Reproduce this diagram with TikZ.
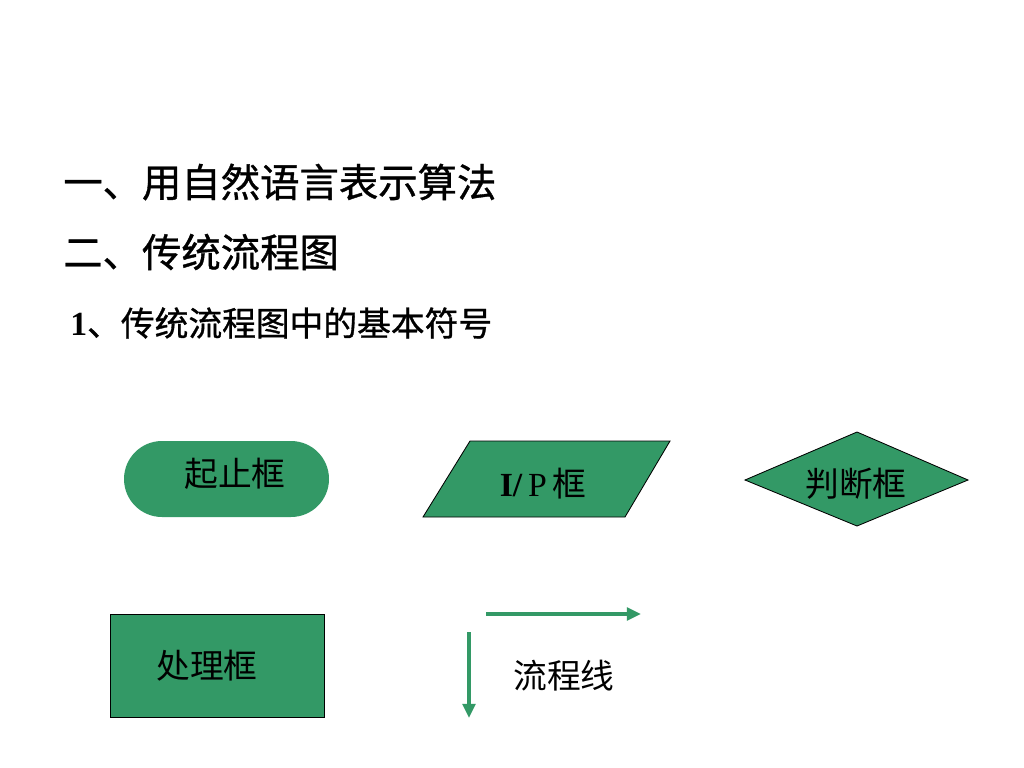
\documentclass[tikz,border=0pt]{standalone}
\usepackage{fontspec}
\setmainfont{Liberation Serif}
\newfontfamily\cjk{Noto Sans CJK SC}
\newfontfamily\cjkhead{Noto Sans CJK SC}[FakeBold=0.9]
\usetikzlibrary{arrows.meta}
\definecolor{symgreen}{RGB}{51,153,102}
\tikzset{
  symbox/.style={fill=symgreen,draw=black,line width=.6pt},
  symtext/.style={inner sep=0pt,font=\fontsize{24}{28}\selectfont\cjk},
  headtext/.style={anchor=west,inner sep=0pt,font=\fontsize{28}{32}\selectfont\cjkhead},
  flowline/.style={draw=symgreen,line width=2.2pt,-{Triangle[length=10pt,width=9pt]}}
}
\begin{document}
\begin{tikzpicture}[x=0.025cm,y=-0.025cm]
\useasboundingbox (0,0) rectangle (1024,768);

% headings
\node[headtext] (alg) at (63,182) {一、用自然语言表示算法};
\node[headtext] (trad) at (63,252) {二、传统流程图};
\node[headtext,font=\fontsize{24}{28}\selectfont] (sym) at (70,323) {\textbf{1}{\cjkhead 、传统流程图中的基本符号}};

% symbols
\fill[symgreen,rounded corners=0.95cm] (124,441) rectangle (329,517);
\node[symtext] (start) at (235,474) {起止框};

\draw[symbox] (423,517) -- (470,441) -- (670,441) -- (625,517) -- cycle;
\node[symtext] (io) at (543,484) {{\rmfamily\bfseries I/}\,{\rmfamily P}\,框};

\draw[symbox] (745,480) -- (857,432) -- (968,480) -- (857,526) -- cycle;
\node[symtext] (judge) at (856,484) {判断框};

\draw[symbox] (110,614) rectangle (324,717);
\node[symtext] (proc) at (207,666) {处理框};

% flow lines
\coordinate (ha) at (486,614);
\coordinate (hb) at (641,614);
\coordinate (va) at (469,632);
\coordinate (vb) at (469,718);
\draw[flowline] (ha) -- (hb);
\draw[flowline] (va) -- (vb);
\node[symtext] (line) at (564,676) {流程线};

\end{tikzpicture}
\end{document}
